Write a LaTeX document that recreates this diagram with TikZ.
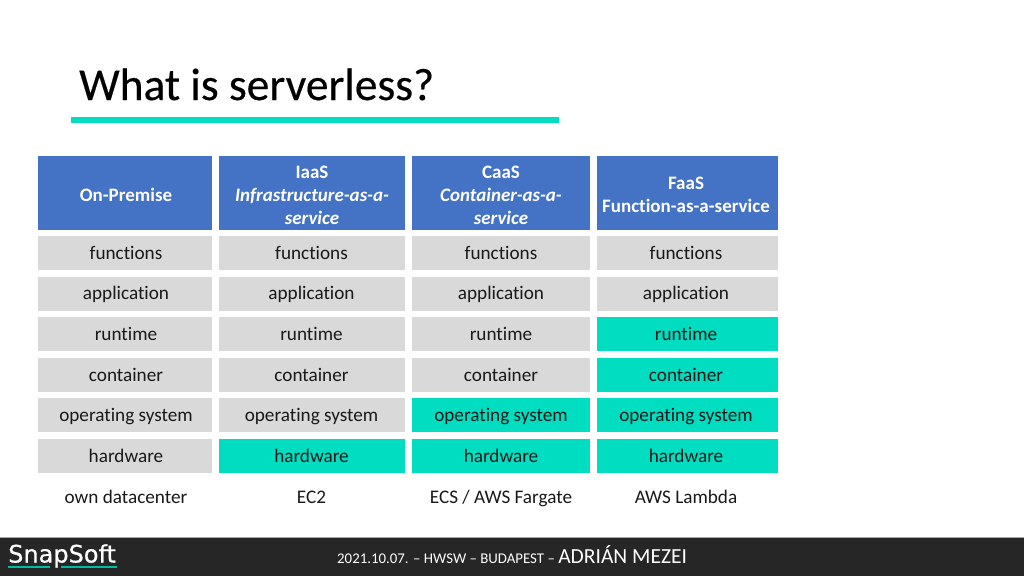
\documentclass[tikz,border=0pt]{standalone}
\usepackage{fontspec}
\setmainfont[Ligatures=NoCommon]{Carlito}
\newfontfamily\titlefont[FakeBold=0.4]{Carlito}
\newfontfamily\logofont[FakeBold=0.6]{DejaVu Sans}
\newcommand{\hstrut}{\rule{0pt}{17pt}}
\definecolor{teal1}{HTML}{00DDC0}
\definecolor{hdr}{HTML}{4472C4}
\definecolor{cellgray}{HTML}{D9D9D9}
\definecolor{footer}{HTML}{262626}
\tikzset{
  cell/.style={minimum height=34pt, inner sep=0pt, align=center, text height=14.5pt, text depth=2.5pt, font=\fontsize{19.2}{22}\selectfont, text=black!90},
  grayc/.style={cell, fill=cellgray},
  tealc/.style={cell, fill=teal1},
  head/.style={cell, fill=hdr, text=white, minimum height=74pt, text height=, text depth=, font=\fontsize{19}{23}\selectfont\bfseries},
  plain/.style={cell, minimum height=24pt},
  colA/.style={minimum width=174pt},
  colB/.style={minimum width=186pt},
  colC/.style={minimum width=178pt},
  colD/.style={minimum width=181pt},
}
\begin{document}
\begin{tikzpicture}[x=1pt,y=-1pt]
\useasboundingbox (0,0) rectangle (1024,576);
\fill[white] (0,0) rectangle (1024,576);
\node[anchor=base west, inner sep=0pt, font=\titlefont\fontsize{45.5}{50}\selectfont, text=black] (title) at (79,100) {What is serverless?};
\fill[teal1] (71,117) rectangle (559,123);
% headers
\node[head,colA] (h1) at (125,193) {\hstrut\kern2pt On-Premise};
\node[head,colB] (h2) at (312,193) {\hstrut IaaS\\\textit{Infrastructure-as-a-}\\\textit{service}};
\node[head,colC] (h3) at (501,193) {\hstrut CaaS\\\textit{Container-as-a-}\\\textit{service}};
\node[head,colD] (h4) at (687.5,193) {\hstrut FaaS\kern3pt\\Function-as-a-service\kern3pt};
% col A
\node[grayc,colA] (a1) at (125,253) {\kern2pt functions};
\node[grayc,colA] (a2) at (125,293.5) {\kern2pt application};
\node[grayc,colA] (a3) at (125,334) {\kern2pt runtime};
\node[grayc,colA] (a4) at (125,375) {\kern2pt container};
\node[grayc,colA] (a5) at (125,415) {\kern2pt operating system};
\node[grayc,colA] (a6) at (125,456) {\kern2pt hardware};
\node[plain,colA] (a7) at (125,497) {\kern2pt own datacenter};
% col B
\node[grayc,colB] (b1) at (312,253) {functions\kern1pt};
\node[grayc,colB] (b2) at (312,293.5) {application\kern1pt};
\node[grayc,colB] (b3) at (312,334) {runtime\kern1pt};
\node[grayc,colB] (b4) at (312,375) {container\kern1pt};
\node[grayc,colB] (b5) at (312,415) {operating system\kern1pt};
\node[tealc,colB] (b6) at (312,456) {hardware\kern1pt};
\node[plain,colB] (b7) at (312,497) {EC2\kern1pt};
% col C
\node[grayc,colC] (c1) at (501,253) {functions};
\node[grayc,colC] (c2) at (501,293.5) {application};
\node[grayc,colC] (c3) at (501,334) {runtime};
\node[grayc,colC] (c4) at (501,375) {container};
\node[tealc,colC] (c5) at (501,415) {operating system};
\node[tealc,colC] (c6) at (501,456) {hardware};
\node[plain,colC] (c7) at (501,497) {ECS / AWS Fargate};
% col D
\node[grayc,colD] (d1) at (687.5,253) {functions\kern3pt};
\node[grayc,colD] (d2) at (687.5,293.5) {application\kern3pt};
\node[tealc,colD] (d3) at (687.5,334) {runtime\kern3pt};
\node[tealc,colD] (d4) at (687.5,375) {container\kern3pt};
\node[tealc,colD] (d5) at (687.5,415) {operating system\kern3pt};
\node[tealc,colD] (d6) at (687.5,456) {hardware\kern3pt};
\node[plain,colD] (d7) at (687.5,497) {AWS Lambda\kern3pt};
% footer
\fill[footer] (0,538) rectangle (1024,576);
\draw[black!35,line width=0.8pt] (0,537.5) -- (1024,537.5);
\node[anchor=base west, inner sep=0pt, text=white, font=\logofont\fontsize{24}{28}\selectfont] (logo) at (8,562.5) {SnapSoft};
\fill[teal1!85!black] (8,565.5) rectangle (50,568);
\fill[teal1!85!black] (61,565.5) rectangle (117,568);
\node[anchor=base west, inner sep=0pt, text=white, font=\fontsize{14.85}{16}\selectfont] (foot) at (337,563) {2021.10.07. – HWSW – BUDAPEST – {\fontsize{21.5}{22}\selectfont ADRIÁN MEZEI}};
\end{tikzpicture}
\end{document}
